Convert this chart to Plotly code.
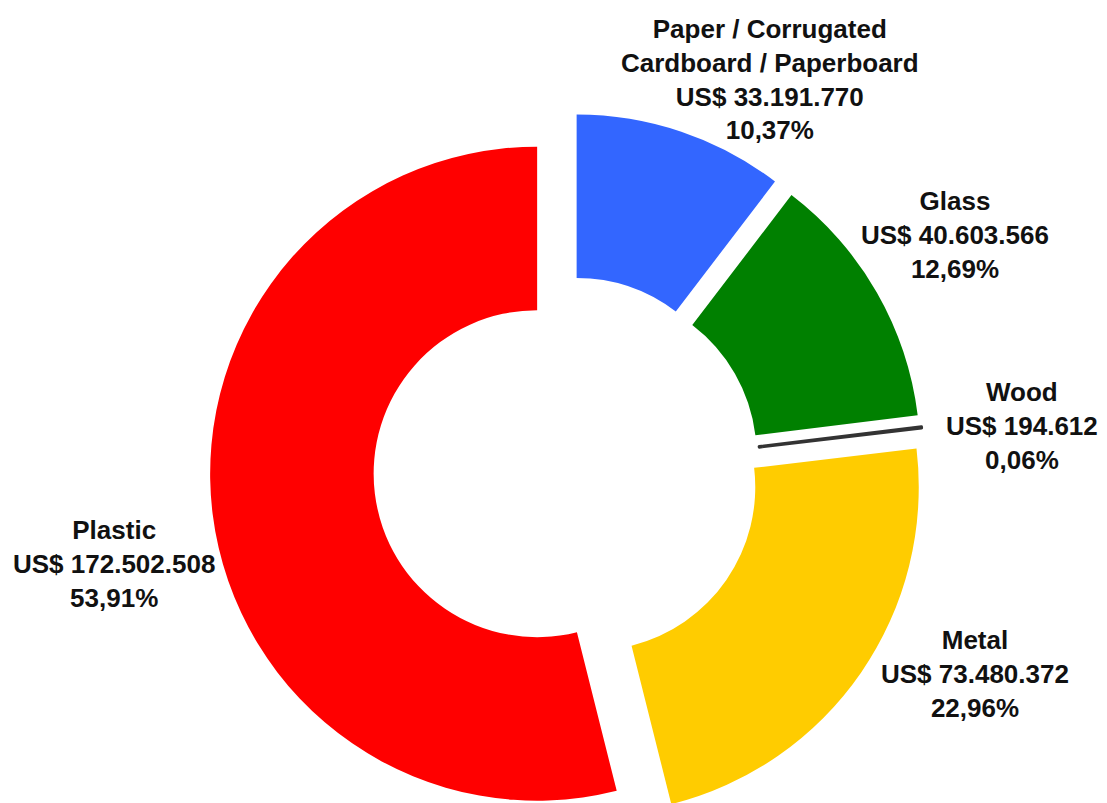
import plotly.graph_objects as go

# ---- data ----
categories = ["Paper / Corrugated<br>Cardboard / Paperboard", "Glass", "Wood", "Metal", "Plastic"]
values = [33191770, 40603566, 194612, 73480372, 172502508]
percent_labels = ["10,37%", "12,69%", "0,06%", "22,96%", "53,91%"]
colors = ["#3366FF", "#008000", "#333333", "#FFCC00", "#FF0000"]

# ---- layout constants (page has an 8px body margin) ----
OFF = 8
W, H = 1107 - OFF, 820
CX, CY = 567 - OFF, 470 - OFF          # pie centre in figure px
PULL = 0.092
R = 327
BOX = 2 * R * (1 + PULL)

label_pos = [(770, 80), (955, 235), (1022, 426), (975, 674), (114, 564)]


def money(v):
    return "US$ " + f"{v:,}".replace(",", ".")


def clamp(v):
    return min(1.0, max(0.0, v))


fig = go.Figure()
fig.add_trace(go.Pie(
    labels=[c.replace("<br>", " ") for c in categories],
    values=values,
    sort=False,
    direction="clockwise",
    rotation=0,
    hole=0.5,
    pull=[PULL] * len(values),
    textinfo="none",
    hoverinfo="label+value+percent",
    marker=dict(colors=colors,
                line=dict(color=colors, width=[0, 0, 3, 0, 0])),
    domain=dict(x=[clamp((CX - BOX / 2) / W), clamp((CX + BOX / 2) / W)],
                y=[clamp((H - CY - BOX / 2) / H), clamp((H - CY + BOX / 2) / H)]),
    showlegend=False,
))

for cat, v, p, (x, y) in zip(categories, values, percent_labels, label_pos):
    fig.add_annotation(
        x=(x - OFF) / W, y=1 - (y - OFF) / H, xref="paper", yref="paper",
        xanchor="center", yanchor="middle", align="center",
        text=f"<b>{cat}<br>{money(v)}<br>{p}</b>",
        showarrow=False,
        font=dict(family="Liberation Sans, Arial, sans-serif", size=26, color="#111111"),
    )

fig.update_layout(
    width=W, height=H,
    margin=dict(l=0, r=0, t=0, b=0),
    paper_bgcolor="white",
    plot_bgcolor="white",
)

fig.write_html("out.html")
